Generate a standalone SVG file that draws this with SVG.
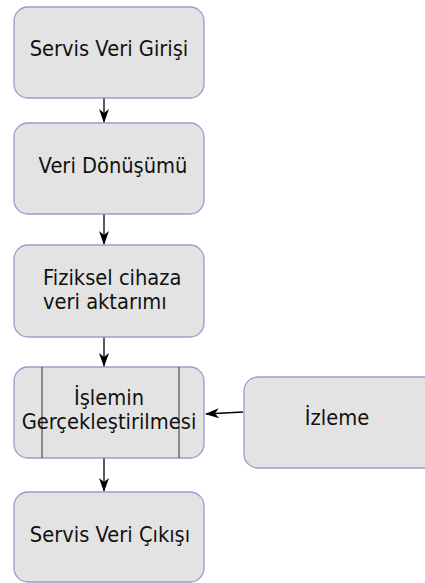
<svg xmlns="http://www.w3.org/2000/svg" width="425" height="583" viewBox="0 0 425 583">
  <style>
    .box { fill: #e3e3e3; stroke: #9a9ad0; stroke-width: 1.3; }
    .lbl { font-family: "DejaVu Sans", Verdana, sans-serif; font-size: 19.5px; fill: #111; }
    .mid { text-anchor: middle; }
    .edge { fill: none; stroke: #000; stroke-width: 1.3; }
    .div { stroke: #333; stroke-width: 1; }
  </style>
  <defs>
    <marker id="arrow" viewBox="0 0 14 10" refX="13" refY="5" markerWidth="14" markerHeight="10" markerUnits="userSpaceOnUse" orient="auto">
      <path d="M0,0 L14,5 L0,10 L4,5 Z" fill="#000"/>
    </marker>
  </defs>
  <rect width="425" height="583" fill="#fff"/>

  <g id="connectors">
    <line class="edge" x1="104" y1="98" x2="104" y2="122" marker-end="url(#arrow)"/>
    <line class="edge" x1="104" y1="214" x2="104" y2="244" marker-end="url(#arrow)"/>
    <line class="edge" x1="104" y1="337" x2="104" y2="366" marker-end="url(#arrow)"/>
    <line class="edge" x1="104" y1="458" x2="104" y2="491" marker-end="url(#arrow)"/>
    <line class="edge" x1="243" y1="412" x2="206" y2="414" marker-end="url(#arrow)"/>
  </g>

  <!-- labels are drawn slightly taller than wide (vertical scale 1.12) -->
  <g id="servis-veri-girisi">
    <rect class="box" x="14" y="7" width="190" height="91" rx="14"/>
    <text class="lbl mid" transform="matrix(1,0,0,1.12,109,56)">Servis Veri Girişi</text>
  </g>

  <g id="veri-donusumu">
    <rect class="box" x="14" y="123" width="190" height="91" rx="14"/>
    <text class="lbl mid" transform="matrix(1,0,0,1.12,113,173)">Veri Dönüşümü</text>
  </g>

  <g id="fiziksel-cihaz">
    <rect class="box" x="14" y="245" width="190" height="92" rx="14"/>
    <text class="lbl" transform="matrix(1,0,0,1.12,43,285)">Fiziksel cihaza</text>
    <text class="lbl" transform="matrix(1,0,0,1.12,43,309)">veri aktarımı</text>
  </g>

  <g id="islemin-gerceklestirilmesi">
    <rect class="box" x="14" y="367" width="190" height="91" rx="14"/>
    <line class="div" x1="42" y1="367" x2="42" y2="458"/>
    <line class="div" x1="179" y1="367" x2="179" y2="458"/>
    <text class="lbl mid" transform="matrix(1,0,0,1.12,109,405)">İşlemin</text>
    <text class="lbl mid" transform="matrix(1,0,0,1.12,109,429)">Gerçekleştirilmesi</text>
  </g>

  <g id="izleme">
    <rect class="box" x="244" y="377" width="200" height="91" rx="14"/>
    <text class="lbl mid" transform="matrix(1,0,0,1.12,337,425)">İzleme</text>
  </g>

  <g id="servis-veri-cikisi">
    <rect class="box" x="14" y="492" width="190" height="90" rx="14"/>
    <text class="lbl mid" transform="matrix(1,0,0,1.12,110,542)">Servis Veri Çıkışı</text>
  </g>
</svg>
